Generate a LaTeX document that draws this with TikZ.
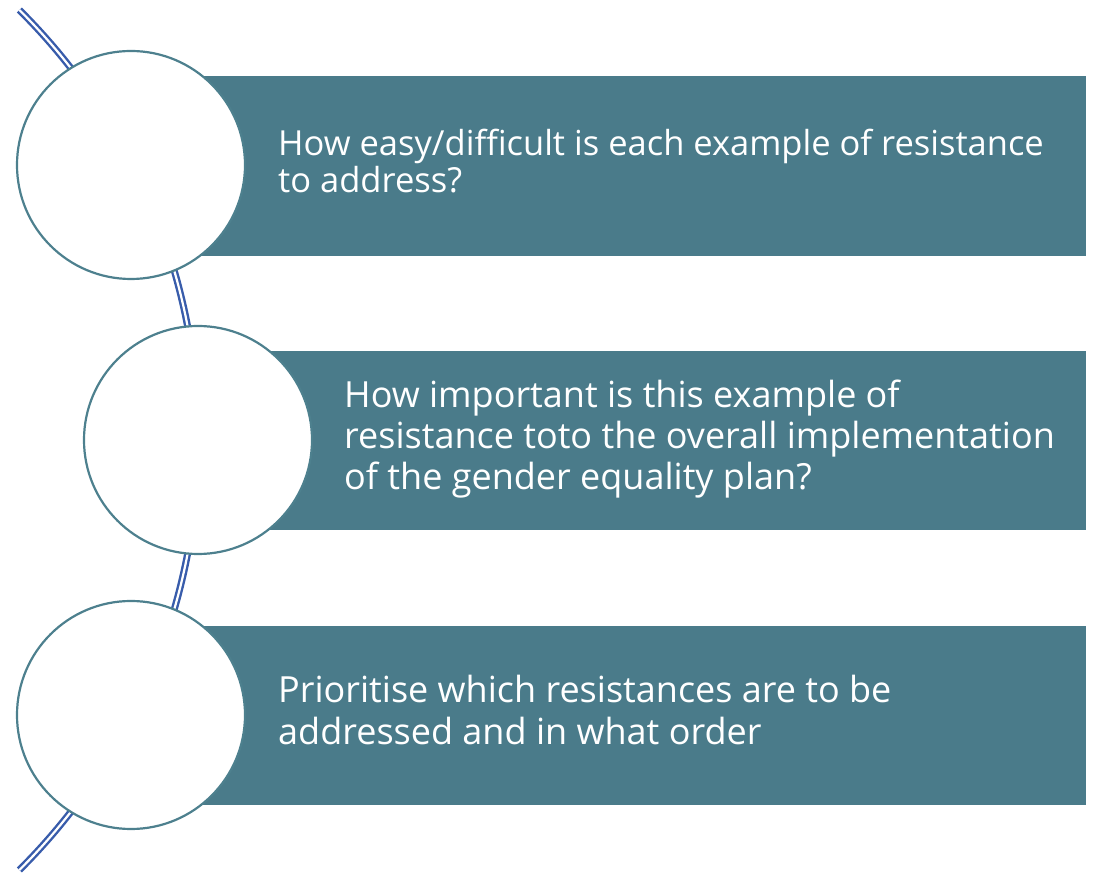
\documentclass[tikz,border=0pt]{standalone}
\usepackage{fontspec}
\setmainfont{Open Sans}
\definecolor{band}{HTML}{4A7B8A}
\definecolor{ring}{HTML}{4D808E}
\definecolor{spine}{HTML}{385CAB}
\begin{document}
\begin{tikzpicture}[x=1pt,y=1pt,
  bandbox/.style={fill=band,draw=none},
  bubble/.style={circle,draw=ring,line width=2.2pt,fill=white,minimum size=228pt,inner sep=0pt},
  label/.style={anchor=base west,align=left,text=white,inner sep=0pt},
  spineline/.style={draw=spine,line width=2.4pt,double=white,double distance=2.2pt}]
\useasboundingbox (0,0) rectangle (1094,875);
% curved spine behind the circles
\coordinate (hub) at (-407.6,435);
\draw[spineline] ([shift={(45.2:606)}]hub) arc[start angle=45.2,end angle=-45.2,radius=606pt];
% bands
\path[bandbox] (150,619) rectangle (1086,799);
\path[bandbox] (220,345) rectangle (1086,524);
\path[bandbox] (150,70) rectangle (1086,249);
% circles
\node[bubble] (c1) at (131,710) {};
\node[bubble] (c2) at (198,435) {};
\node[bubble] (c3) at (131,160) {};
% texts (anchored at the baseline of their last line)
\node[label,font=\fontsize{34.5}{37}\selectfont] (t1) at (278,682.5) {How easy/difficult is each example of resistance\\to address?};
\node[label,font=\fontsize{36}{41}\selectfont] (t2) at (344,385) {How important is this example of\\resistance toto the overall implementation\\of the gender equality plan?};
\node[label,font=\fontsize{36}{42}\selectfont] (t3) at (278,130) {Prioritise which resistances are to be\\addressed and in what order};
\end{tikzpicture}
\end{document}
